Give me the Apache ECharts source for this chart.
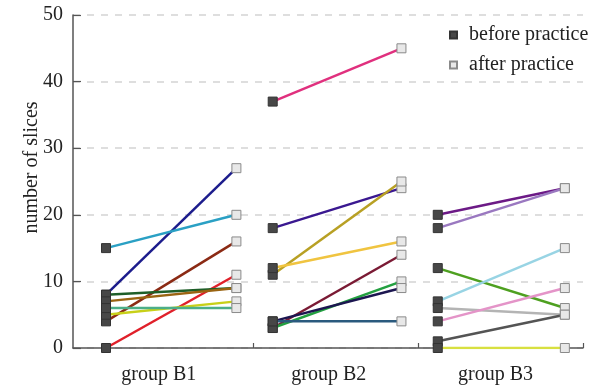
<!DOCTYPE html>
<html>
<head>
<meta charset="utf-8">
<script src="https://cdn.jsdelivr.net/npm/echarts@6/dist/echarts.min.js"></script>
<style>
html,body{margin:0;padding:0;background:#fff;}
#main{width:592px;height:387px;}
</style>
</head>
<body>
<div id="main"></div>
<script>
// groups and where they sit on the x axis
var groups = ['group B1', 'group B2', 'group B3'];
var beforeX = [0.2, 1.21, 2.21];
var afterX = [0.99, 1.99, 2.98];
var labelX = [0.52, 1.55, 2.56];
var tickX = [1.09, 2.09, 3.09];

// number of slices, before / after practice
var b1Before = [8, 15, 4, 0, 8, 7, 5, 6];
var b1After  = [27, 20, 16, 11, 9, 9, 7, 6];
var b2Before = [37, 18, 11, 12, 3, 3, 4, 4];
var b2After  = [45, 24, 25, 16, 14, 10, 9, 4];
var b3Before = [20, 18, 12, 7, 6, 4, 1, 0];
var b3After  = [24, 24, 6, 15, 5, 9, 5, 0];

var yTicks = [0, 10, 20, 30, 40, 50];

var lineColors = [
	['#1c1c8c', '#2aa0c4', '#8b2a14', '#e0202a', '#1e5e28', '#9a6412', '#c8d018', '#4cae88'],
	['#e0307e', '#3a1890', '#b8a024', '#f0c440', '#7a1a34', '#23a040', '#1c1650', '#2a5a7e'],
	['#6c1a86', '#9a78c0', '#4ea020', '#98d4e4', '#b4b4b4', '#e494c8', '#545454', '#d8e040']
];

var befores = [b1Before, b2Before, b3Before];
var afters = [b1After, b2After, b3After];
var font = 'Liberation Serif';

var chart = echarts.init(document.getElementById('main'));

var s = [];
var beforePts = [], afterPts = [];
for (var g = 0; g < groups.length; g++) {
	for (var i = 0; i < befores[g].length; i++) {
		s.push({
			type: 'line',
			data: [[beforeX[g], befores[g][i]], [afterX[g], afters[g][i]]],
			symbol: 'none',
			silent: true,
			lineStyle: {color: lineColors[g][i], width: 2.5},
			z: 2
		});
		beforePts.push([beforeX[g], befores[g][i]]);
		afterPts.push([afterX[g], afters[g][i]]);
	}
}
s.push({
	name: 'before practice',
	type: 'scatter',
	symbol: 'rect',
	symbolSize: 9,
	data: beforePts,
	itemStyle: {color: '#474747', borderColor: '#333', borderWidth: 1, opacity: 1},
	z: 5
});
s.push({
	name: 'after practice',
	type: 'scatter',
	symbol: 'rect',
	symbolSize: 9,
	data: afterPts,
	itemStyle: {color: '#e8e8e8', borderColor: '#8a8a8a', borderWidth: 1, opacity: 1},
	z: 5
});

var option = {
	animation: false,
	grid: {left: 73, right: 9, top: 15, bottom: 39},
	legend: {
		orient: 'vertical',
		left: 444,
		top: 20,
		itemWidth: 7,
		itemHeight: 7,
		itemGap: 10,
		icon: 'rect',
		data: ['before practice', 'after practice'],
		textStyle: {fontFamily: font, fontSize: 20, color: '#222', padding: [0, 0, 0, 7]}
	},
	xAxis: {
		type: 'value',
		min: 0,
		max: tickX[tickX.length - 1],
		splitLine: {show: false},
		axisLine: {lineStyle: {color: '#555', width: 1.5}},
		axisTick: {show: true, inside: true, length: 5, customValues: tickX, lineStyle: {color: '#555', width: 1.2}},
		axisLabel: {
			customValues: labelX,
			margin: 17,
			fontFamily: font, fontSize: 20, color: '#222',
			formatter: function (v) {
				var k = labelX.indexOf(v);
				return k >= 0 ? groups[k] : '';
			}
		}
	},
	yAxis: {
		type: 'value',
		min: yTicks[0],
		max: yTicks[yTicks.length - 1],
		interval: 10,
		name: 'number of slices',
		nameLocation: 'middle',
		nameGap: 31,
		nameMoveOverlap: false,
		nameTextStyle: {fontFamily: font, fontSize: 20, color: '#222', padding: [0, 0, 0, 28]},
		axisLine: {show: true, lineStyle: {color: '#555', width: 1.5}},
		axisTick: {show: true, inside: true, length: 8, lineStyle: {color: '#555', width: 1.2}},
		axisLabel: {margin: 10, fontFamily: font, fontSize: 20, color: '#222'},
		splitLine: {show: true, lineStyle: {color: '#d4d4d4', type: [7, 7], width: 1.5}}
	},
	series: s
};
chart.setOption(option);
</script>
</body>
</html>
